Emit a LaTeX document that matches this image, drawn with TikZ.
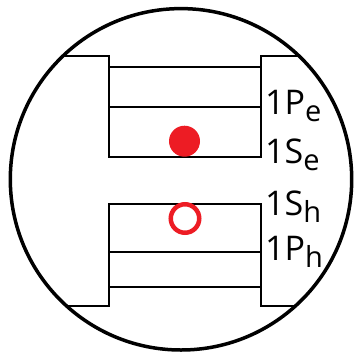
\documentclass[tikz,border=0pt]{standalone}
\usepackage{fontspec}
\setmainfont{Open Sans}
\usepackage{xcolor}
\usepackage{tikz}
\definecolor{qd-red}{RGB}{237,28,36}
\tikzset{
  qd@ring/.style={draw=black, line width=3.5pt},
  qd@level/.style={draw=black, line width=1.8pt},
  qd@elec/.style={circle, fill=qd-red, minimum size=31pt, inner sep=0pt},
  qd@hole/.style={circle, draw=qd-red, line width=4.5pt, minimum size=28.5pt, inner sep=0pt},
  qd@lbl/.style={font=\fontsize{34}{34}\selectfont, inner sep=0pt, anchor=base west},
}
\newcommand{\qdsub}[1]{\raisebox{-7pt}{\fontsize{29}{29}\selectfont #1}}

\begin{document}
\begin{tikzpicture}[x=1pt, y=-1pt]
  \useasboundingbox (0,0) rectangle (355,353);
  \coordinate (mid) at (181,179.3);

  % wells, cut off by the round frame
  \begin{scope}
    \clip (mid) circle[radius=170.7pt];
    \draw[qd@level] (0,55.7) -| (109,157) -- (261,157) |- (360,55.7);
    \draw[qd@level] (109,66.7)  -- (261,66.7);
    \draw[qd@level] (109,106.7) -- (261,106.7);
    \draw[qd@level] (0,305.7) -| (109,204.3) -- (261,204.3) |- (360,305.7);
    \draw[qd@level] (109,252.3) -- (261,252.3);
    \draw[qd@level] (109,287.3) -- (261,287.3);
  \end{scope}
  \draw[qd@ring] (mid) circle[radius=170.7pt];

  \node[qd@elec] (elec) at (184.5,141.2) {};
  \node[qd@hole] (hole) at (185,218.5) {};

  \node[qd@lbl] (pe) at (265,114)   {1P\qdsub{e}};
  \node[qd@lbl] (se) at (265,163.5) {1S\qdsub{e}};
  \node[qd@lbl] (sh) at (265,215)   {1S\qdsub{h}};
  \node[qd@lbl] (ph) at (265,260)   {1P\qdsub{h}};
\end{tikzpicture}
\end{document}
